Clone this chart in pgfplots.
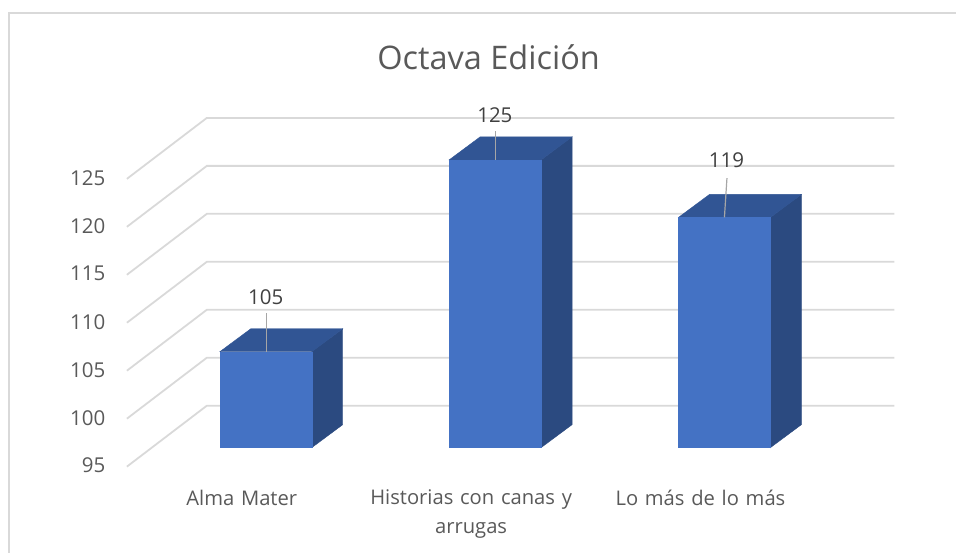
\documentclass[border=0pt]{standalone}
\usepackage{fontspec}
\setmainfont{Open Sans}
\usepackage{pgfplots}
\pgfplotsset{compat=1.18}
\definecolor{front}{HTML}{4472C4}
\definecolor{topf}{HTML}{315594}
\definecolor{sidef}{HTML}{2B4A80}
\definecolor{gridc}{HTML}{D9D9D9}
\definecolor{txt}{HTML}{595959}
\definecolor{lab}{HTML}{404040}
\definecolor{lead}{HTML}{A6A6A6}
\begin{document}
\begin{tikzpicture}
\begin{axis}[
  scale only axis, width=830pt, height=488pt,
  xmin=-0.60566, xmax=3.01089, ymin=90.8333, ymax=141.6667,
  clip=false,
  axis line style={draw=none}, tick style={draw=none}, major tick length=0pt,
  /pgf/number format/assume math mode=true,
  ytick={95,100,105,110,115,120,125},
  xtick={0,1,2},
  xticklabels={Alma Mater,{Historias con canas y\\arrugas},Lo más de lo más},
  y tick label style={font=\fontsize{20.5}{24}\selectfont, text=txt, yshift=-18pt, xshift=-18pt},
  x tick label style={font=\fontsize{20.2}{29}\selectfont, text=txt, align=center, text width=260pt, xshift=-24pt, anchor=north, yshift=1pt},
]
% picture extent and outer frame
\path (axis cs:-1.15904,84.0625) rectangle (axis cs:3.01089,141.6667);
\addplot[gridc, line width=1.5pt, forget plot] coordinates {(-1.11983,84.0625)(-1.11983,140.3125)(3.01089,140.3125)};
% gridlines: front corner, back wall
\addplot[gridc, line width=1.8pt] coordinates {(-0.60566,93.021)(-0.25708,99.375)(2.74074,99.375)};
\addplot[gridc, line width=1.8pt] coordinates {(-0.60566,98.021)(-0.25708,104.375)(2.74074,104.375)};
\addplot[gridc, line width=1.8pt] coordinates {(-0.60566,103.021)(-0.25708,109.375)(2.74074,109.375)};
\addplot[gridc, line width=1.8pt] coordinates {(-0.60566,108.021)(-0.25708,114.375)(2.74074,114.375)};
\addplot[gridc, line width=1.8pt] coordinates {(-0.60566,113.021)(-0.25708,119.375)(2.74074,119.375)};
\addplot[gridc, line width=1.8pt] coordinates {(-0.60566,118.021)(-0.25708,124.375)(2.74074,124.375)};
\addplot[gridc, line width=1.8pt] coordinates {(-0.60566,123.021)(-0.25708,129.375)(2.74074,129.375)};
% Alma Mater = 105
\addplot[fill=sidef, draw=sidef, line width=0.4pt] coordinates {(0.20044,95)(0.33552,97.396)(0.33552,107.396)(0.20044,105)} -- cycle;
\addplot[fill=topf, draw=topf, line width=0.4pt] coordinates {(-0.20044,105)(0.20044,105)(0.33552,107.396)(-0.06536,107.396)} -- cycle;
\addplot[fill=front, draw=front, line width=0.4pt] coordinates {(-0.20044,95)(0.20044,95)(0.20044,105)(-0.20044,105)} -- cycle;
% Historias = 125
\addplot[fill=sidef, draw=sidef, line width=0.4pt] coordinates {(1.20044,95)(1.33552,97.396)(1.33552,127.396)(1.20044,125)} -- cycle;
\addplot[fill=topf, draw=topf, line width=0.4pt] coordinates {(0.79956,125)(1.20044,125)(1.33552,127.396)(0.93464,127.396)} -- cycle;
\addplot[fill=front, draw=front, line width=0.4pt] coordinates {(0.79956,95)(1.20044,95)(1.20044,125)(0.79956,125)} -- cycle;
% Lo mas = 119
\addplot[fill=sidef, draw=sidef, line width=0.4pt] coordinates {(2.20044,95)(2.33552,97.396)(2.33552,121.396)(2.20044,119)} -- cycle;
\addplot[fill=topf, draw=topf, line width=0.4pt] coordinates {(1.79956,119)(2.20044,119)(2.33552,121.396)(1.93464,121.396)} -- cycle;
\addplot[fill=front, draw=front, line width=0.4pt] coordinates {(1.79956,95)(2.20044,95)(2.20044,119)(1.79956,119)} -- cycle;
% leader lines
\addplot[lead, line width=1.2pt] coordinates {(0.003,105)(0.003,109)};
\addplot[lead, line width=1.2pt] coordinates {(1.001,125)(1.001,128)};
\addplot[lead, line width=1.2pt] coordinates {(2,119)(2.011,123.1)};
% labels
\node[font=\fontsize{20.5}{24}\selectfont, text=lab] at (axis cs:0,110.7) {105};
\node[font=\fontsize{20.5}{24}\selectfont, text=lab] at (axis cs:0.999,129.7) {125};
\node[font=\fontsize{20.5}{24}\selectfont, text=lab] at (axis cs:2.009,125) {119};
\node[font=\fontsize{32.5}{38}\selectfont, text=txt] at (axis cs:0.97168,135.73) {Octava Edición};
\end{axis}
\end{tikzpicture}
\end{document}
